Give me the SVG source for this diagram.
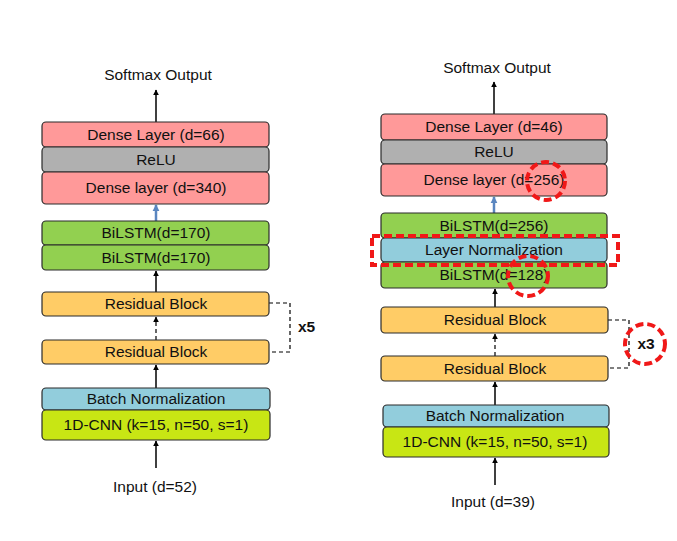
<svg xmlns="http://www.w3.org/2000/svg" width="677" height="541" viewBox="0 0 677 541">
<style>
.b{stroke:#2b2b2b;stroke-width:1.2}
.t{font-family:"Liberation Sans",Arial,sans-serif;font-size:15.5px;fill:#111;text-anchor:middle}
.dense{fill:#FF9999}.relu{fill:#B0B0B0}.lstm{fill:#92D050}.res{fill:#FFCC66}.bn{fill:#92CDDC}.cnn{fill:#C8E614}
.ln{stroke:#000;stroke-width:1.5;fill:none}
.dl{stroke:#000;stroke-width:1.2;fill:none;stroke-dasharray:4 3}
.blue{stroke:#5A86C0;stroke-width:2.5;fill:none}
.red{stroke:#F01818;stroke-width:4;fill:none;stroke-dasharray:8 4}
</style>
<defs>
<marker id="ah" viewBox="0 0 10 10" refX="9" refY="5" markerWidth="6" markerHeight="7" markerUnits="userSpaceOnUse" orient="auto"><path d="M0,0L10,5L0,10z" fill="#000"/></marker>
<marker id="ahb" viewBox="0 0 10 10" refX="9" refY="5" markerWidth="7" markerHeight="8" markerUnits="userSpaceOnUse" orient="auto"><path d="M0,0L10,5L0,10z" fill="#5A86C0"/></marker>
</defs>

<g id="connectors">
<line class="ln" x1="156" y1="122" x2="156" y2="90" marker-end="url(#ah)"/>
<line class="blue" x1="156" y1="221" x2="156" y2="205" marker-end="url(#ahb)"/>
<line class="ln" x1="156" y1="292" x2="156" y2="271" marker-end="url(#ah)"/>
<line class="dl" x1="156" y1="340" x2="156" y2="317" marker-end="url(#ah)"/>
<line class="ln" x1="156" y1="388" x2="156" y2="365" marker-end="url(#ah)"/>
<line class="ln" x1="156" y1="468" x2="156" y2="441" marker-end="url(#ah)"/>
<path class="dl" d="M269,303H290V352H269"/>
<line class="ln" x1="494" y1="114" x2="494" y2="82" marker-end="url(#ah)"/>
<line class="blue" x1="494" y1="213" x2="494" y2="197" marker-end="url(#ahb)"/>
<line class="ln" x1="495" y1="307" x2="495" y2="289" marker-end="url(#ah)"/>
<line class="dl" x1="495" y1="356" x2="495" y2="334" marker-end="url(#ah)"/>
<line class="ln" x1="495" y1="405" x2="495" y2="382" marker-end="url(#ah)"/>
<line class="ln" x1="495" y1="485" x2="495" y2="458" marker-end="url(#ah)"/>
<path class="dl" d="M608,320H629V368H608"/>
</g>

<g id="left">
<g id="l-softmax"><text class="t" x="158" y="80">Softmax Output</text></g>
<g id="l-dense66"><rect class="b dense" x="42" y="122" width="227" height="25" rx="4"/><text class="t" x="156" y="140">Dense Layer (d=66)</text></g>
<g id="l-relu"><rect class="b relu" x="42" y="147" width="227" height="25" rx="4"/><text class="t" x="156" y="165">ReLU</text></g>
<g id="l-dense340"><rect class="b dense" x="42" y="172" width="227" height="32" rx="4"/><text class="t" x="156" y="193">Dense layer (d=340)</text></g>
<g id="l-bilstm1"><rect class="b lstm" x="42" y="221" width="227" height="24" rx="4"/><text class="t" x="156" y="238">BiLSTM(d=170)</text></g>
<g id="l-bilstm2"><rect class="b lstm" x="42" y="245" width="227" height="25" rx="4"/><text class="t" x="156" y="263">BiLSTM(d=170)</text></g>
<g id="l-res1"><rect class="b res" x="42" y="292" width="227" height="24" rx="4"/><text class="t" x="156" y="309">Residual Block</text></g>
<g id="l-res2"><rect class="b res" x="42" y="340" width="227" height="24" rx="4"/><text class="t" x="156" y="357">Residual Block</text></g>
<g id="l-x5"><text x="298" y="332" style="font-family:'Liberation Sans',Arial,sans-serif;font-size:15.5px;font-weight:bold;fill:#111">x5</text></g>
<g id="l-bn"><rect class="b bn" x="42" y="388" width="228" height="22" rx="4"/><text class="t" x="156" y="404">Batch Normalization</text></g>
<g id="l-cnn"><rect class="b cnn" x="42" y="410" width="228" height="30" rx="4"/><text class="t" x="156" y="430">1D-CNN (k=15, n=50, s=1)</text></g>
<g id="l-input"><text class="t" x="155" y="492">Input (d=52)</text></g>
</g>

<g id="right">
<g id="r-softmax"><text class="t" x="497" y="73">Softmax Output</text></g>
<g id="r-dense46"><rect class="b dense" x="381" y="114" width="226" height="26" rx="4"/><text class="t" x="494" y="132">Dense Layer (d=46)</text></g>
<g id="r-relu"><rect class="b relu" x="381" y="140" width="226" height="24" rx="4"/><text class="t" x="494" y="157">ReLU</text></g>
<g id="r-dense256"><rect class="b dense" x="381" y="164" width="226" height="32" rx="4"/><text class="t" x="494" y="185">Dense layer (d=256)</text></g>
<g id="r-bilstm256"><rect class="b lstm" x="381" y="213" width="226" height="25" rx="4"/><text class="t" x="494" y="231">BiLSTM(d=256)</text></g>
<g id="r-ln"><rect class="b bn" x="381" y="238" width="226" height="24" rx="4"/><text class="t" x="494" y="255">Layer Normalization</text></g>
<g id="r-bilstm128"><rect class="b lstm" x="381" y="262" width="226" height="26" rx="4"/><text class="t" x="494" y="280">BiLSTM(d=128)</text></g>
<g id="r-res1"><rect class="b res" x="381" y="307" width="227" height="26" rx="4"/><text class="t" x="495" y="325">Residual Block</text></g>
<g id="r-res2"><rect class="b res" x="381" y="356" width="227" height="25" rx="4"/><text class="t" x="495" y="374">Residual Block</text></g>
<g id="r-x3"><text x="646" y="349" style="font-family:'Liberation Sans',Arial,sans-serif;font-size:15.5px;font-weight:bold;fill:#111;text-anchor:middle">x3</text></g>
<g id="r-bn"><rect class="b bn" x="383" y="405" width="226" height="22" rx="4"/><text class="t" x="495" y="421">Batch Normalization</text></g>
<g id="r-cnn"><rect class="b cnn" x="383" y="427" width="226" height="30" rx="4"/><text class="t" x="495" y="447">1D-CNN (k=15, n=50, s=1)</text></g>
<g id="r-input"><text class="t" x="493" y="507">Input (d=39)</text></g>
</g>

<g id="highlights">
<rect class="red" x="372" y="236" width="246" height="29"/>
<circle class="red" cx="546" cy="181" r="19"/>
<circle class="red" cx="528" cy="276" r="20"/>
<circle class="red" cx="645" cy="344" r="20"/>
</g>
</svg>
